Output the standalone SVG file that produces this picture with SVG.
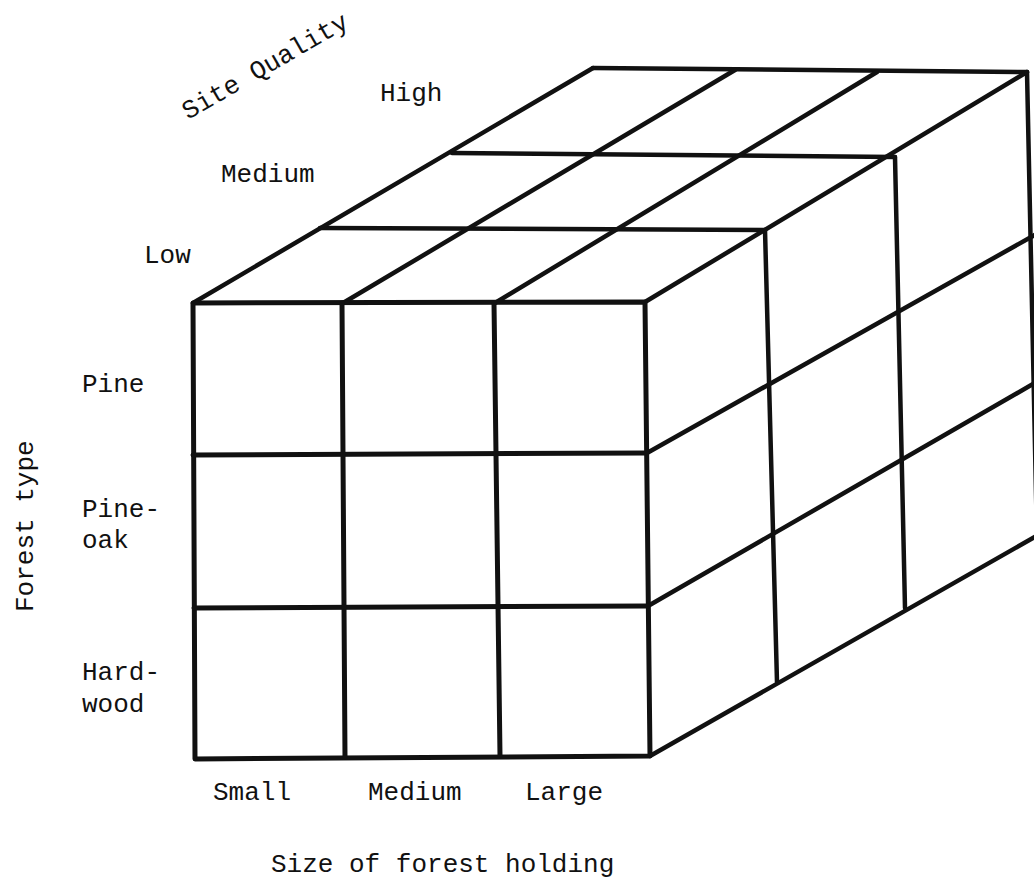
<svg xmlns="http://www.w3.org/2000/svg" width="1034" height="884" viewBox="0 0 1034 884">
<style>
.ln{stroke:#111;stroke-width:4.5;fill:none;stroke-linecap:round;stroke-linejoin:round}
.fr{stroke-width:5}
.t{font-family:"Liberation Mono","DejaVu Sans Mono",monospace;font-size:26px;fill:#111}
</style>
<rect width="1034" height="884" fill="#fff"/>
<g id="connectors">
<g id="top-face" class="ln">
<line x1="593" y1="68" x2="1027" y2="72"/>
<line x1="452" y1="153" x2="895" y2="157"/>
<line x1="320" y1="228" x2="765" y2="230"/>
<line x1="193" y1="303" x2="593" y2="68"/>
<line x1="343" y1="303" x2="735" y2="70"/>
<line x1="495" y1="303" x2="877" y2="72"/>
<line x1="645" y1="302" x2="1027" y2="72"/>
</g>
<g id="side-face" class="ln">
<line x1="765" y1="230" x2="777" y2="682"/>
<line x1="895" y1="157" x2="905" y2="608"/>
<line x1="1027" y1="72" x2="1037" y2="540"/>
<line x1="647" y1="453" x2="1040" y2="232"/>
<line x1="648" y1="606" x2="1040" y2="380"/>
<line x1="650" y1="756" x2="1040" y2="534"/>
</g>
<g id="front-face" class="ln fr">
<polygon points="193,303 645,302 650,756 195,759"/>
<line x1="193" y1="455" x2="647" y2="453"/>
<line x1="194" y1="608" x2="648" y2="606"/>
<line x1="342" y1="303" x2="345" y2="757"/>
<line x1="494" y1="303" x2="500" y2="756"/>
</g>
</g>
<g id="site-quality-axis">
<text class="t" transform="translate(188,120) rotate(-30)">Site Quality</text>
<text class="t" x="380" y="101">High</text>
<text class="t" x="221" y="182">Medium</text>
<text class="t" x="144" y="263">Low</text>
</g>
<g id="forest-type-axis">
<text class="t" transform="translate(33,612) rotate(-90)">Forest type</text>
<text class="t" x="82" y="392">Pine</text>
<text class="t" x="82" y="517">Pine-</text>
<text class="t" x="82" y="548">oak</text>
<text class="t" x="82" y="680">Hard-</text>
<text class="t" x="82" y="712">wood</text>
</g>
<g id="size-axis">
<text class="t" x="213" y="800">Small</text>
<text class="t" x="368" y="800">Medium</text>
<text class="t" x="525" y="800">Large</text>
<text class="t" x="271" y="872">Size of forest holding</text>
</g>
</svg>
